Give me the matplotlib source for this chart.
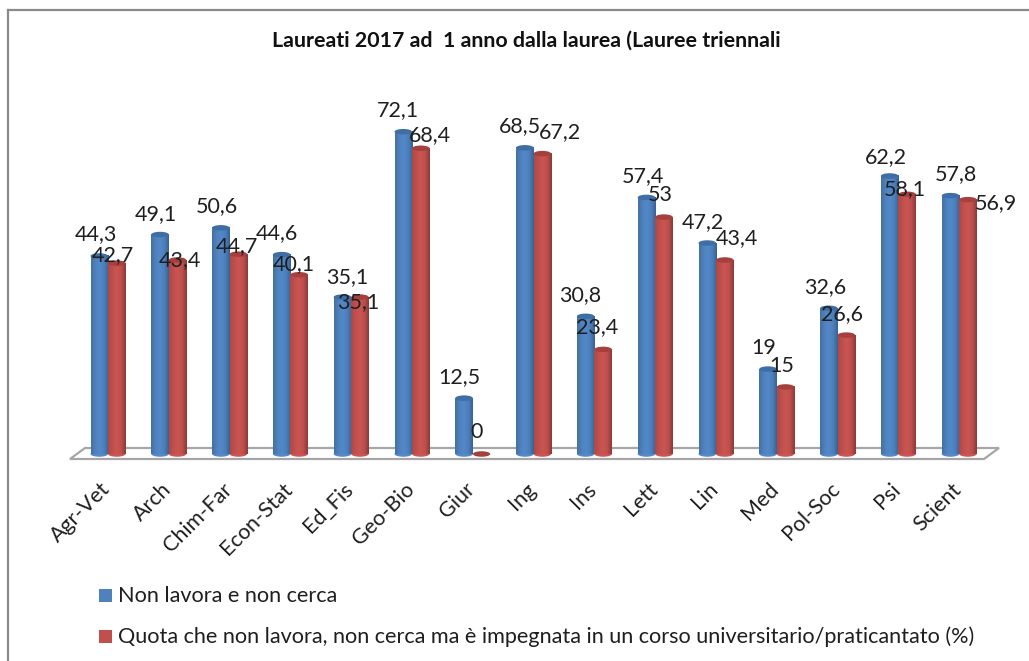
import numpy as np
import matplotlib

matplotlib.use("Agg")
import matplotlib.pyplot as plt
from matplotlib.colors import LinearSegmentedColormap
from matplotlib.lines import Line2D
from matplotlib.patches import Ellipse, Polygon, Rectangle
from matplotlib.transforms import ScaledTranslation

W, H = 1029, 661

categories = ["Agr-Vet", "Arch", "Chim-Far", "Econ-Stat", "Ed_Fis", "Geo-Bio", "Giur", "Ing",
              "Ins", "Lett", "Lin", "Med", "Pol-Soc", "Psi", "Scient"]
non_lavora = [44.3, 49.1, 50.6, 44.6, 35.1, 72.1, 12.5, 68.5, 30.8, 57.4, 47.2, 19, 32.6, 62.2, 57.8]
quota = [42.7, 43.4, 44.7, 40.1, 35.1, 68.4, 0, 67.2, 23.4, 53, 43.4, 15, 26.6, 58.1, 56.9]
name_blue = "Non lavora e non cerca"
name_red = "Quota che non lavora, non cerca ma è impegnata in un corso universitario/praticantato (%)"
title = "Laureati 2017 ad  1 anno dalla laurea (Lauree triennali"

# where excel left the data labels, pixels from the bar top centre
off_blue = [(-3, 22), (-4, 20), (-4, 22), (-5, 22), (5, 20), (-5, 22), (-5, 21), (-5, 22),
            (-5, 21), (-3, 21), (-4, 21), (-4, 21), (-4, 21), (-4, 19), (5, 22)]
off_red = [(-4, 8), (2, 0), (-1, 8), (-5, 11), (-2, -5), (9, 13), (-5, 22), (18, 22),
           (-6, 22), (-4, 22), (12, 22), (-4, 21), (-4, 21), (-2, 5), (28, -3)]

plt.rcParams["font.family"] = ["Lato", "DejaVu Sans"]
LABEL = "#1f1f1f"


def fx(px):
    return px / W


def fy(py):
    return 1 - py / H


fig = plt.figure(figsize=(W / 100, H / 100), dpi=100, facecolor="white")

# frame of the pasted chart, only left and top survive the crop
fig.add_artist(Line2D([fx(8), fx(8)], [fy(10), 0], color="#8a8a8a", lw=1.6))
fig.add_artist(Line2D([fx(8), 1], [fy(10), fy(10)], color="#8a8a8a", lw=1.6))

# floor of the 3d chart, has to stay under the axes
floor = [(fx(70), fy(459)), (fx(85), fy(448)), (fx(999), fy(448)), (fx(984), fy(459))]
fig.add_artist(Polygon(floor, closed=True, transform=fig.transFigure, fc="white", ec="#a6a6a6", lw=1.6, zorder=-1))

px_unit = 4.47
left, right = 77.6, 77.6 + 15 * 60.8
bottom, top = 454, 454 - 80 * px_unit
ax = fig.add_axes([fx(left), fy(bottom), (right - left) / W, (bottom - top) / H])
ax.patch.set_alpha(0)
for s in ax.spines.values():
    s.set_visible(False)
ax.set_yticks([])

bw = 17.5 / 60.8
ell_h = 5.5 / px_unit
blues = LinearSegmentedColormap.from_list("b", ["#44719f", "#4f81bd", "#5389c9", "#4d7fbb", "#386396"])
reds = LinearSegmentedColormap.from_list("r", ["#ad4946", "#c0504d", "#ca5552", "#bd4f4c", "#8c3a38"])
grad = np.linspace(0, 1, 40).reshape(1, -1)


def cylinder(xc, val, cmap, cap):
    if val > 0:
        ax.imshow(grad, cmap=cmap, extent=(xc - bw / 2, xc + bw / 2, 0, val), aspect="auto",
                  zorder=3, interpolation="bilinear")
        ax.add_patch(Ellipse((xc, 0), bw, ell_h, fc=cmap(0.5), ec="none", zorder=2.9, clip_on=False))
    ax.add_patch(Ellipse((xc, val), bw, ell_h, fc=cap, ec="none", zorder=3.1, clip_on=False))


x = np.arange(len(categories))
for i in x:
    cylinder(i - bw / 2, non_lavora[i], blues, "#3f6ea6")
    cylinder(i + bw / 2, quota[i], reds, "#a5403d")
ax.set_xlim(-0.5, 14.5)
ax.set_ylim(0, 80)

for i in x:
    ax.annotate(f"{non_lavora[i]:g}".replace(".", ","), (i - bw / 2, non_lavora[i]),
                xytext=(off_blue[i][0] * 0.72, off_blue[i][1] * 0.72), textcoords="offset points",
                ha="center", va="center", fontsize=15.5, color=LABEL, zorder=5)
    ax.annotate(f"{quota[i]:g}".replace(".", ","), (i + bw / 2, quota[i]),
                xytext=(off_red[i][0] * 0.72, off_red[i][1] * 0.72), textcoords="offset points",
                ha="center", va="center", fontsize=15.5, color=LABEL, zorder=5)

ax.set_xticks(x)
ax.set_xticklabels(categories, rotation=45, ha="right", rotation_mode="anchor", fontsize=15.5, color=LABEL)
ax.tick_params(axis="x", length=0, pad=18)
for lab in ax.get_xticklabels():
    lab.set_transform(lab.get_transform() + ScaledTranslation(-0.08, 0, fig.dpi_scale_trans))

fig.text(fx(526), fy(41), title, ha="center", va="center", fontsize=15.4, fontweight="bold", color="#111111")

# legend by hand, the two rows are far apart
for py, col, name in [(596, "#4f81bd", name_blue), (637, "#c0504d", name_red)]:
    fig.add_artist(Rectangle((fx(99), fy(py + 6)), 13 / W, 13 / H, transform=fig.transFigure, fc=col, ec="none"))
    fig.text(fx(118), fy(py), name, ha="left", va="center", fontsize=15.6, color=LABEL)

fig.savefig("out.png", dpi=100)
